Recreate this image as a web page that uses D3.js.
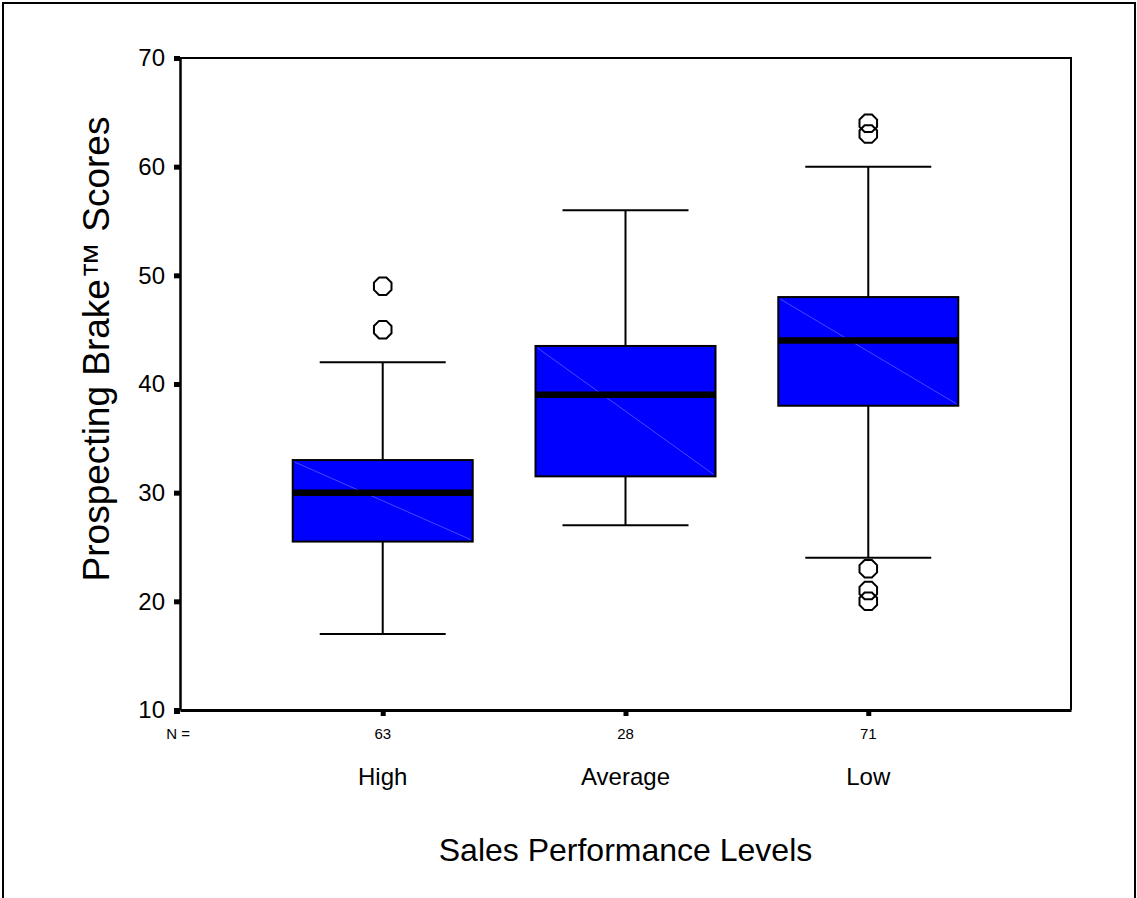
<!DOCTYPE html>
<html>
<head>
<meta charset="utf-8">
<script src="https://cdn.jsdelivr.net/npm/d3@7"></script>
<style>
  body { margin: 0; background: #fff; }
  text { font-family: Arial, "Liberation Sans", sans-serif; fill: #000; }
</style>
</head>
<body>
<div id="chart"></div>
<script>
// data
const categories = ["High", "Average", "Low"];
const counts = [63, 28, 71];
const lowerWhisker = [17, 27, 24];
const q1 = [25.5, 31.5, 38];
const median = [30, 39, 44];
const q3 = [33, 43.5, 48];
const upperWhisker = [42, 56, 60];
const outliers = [[49, 45], [], [64, 63, 23, 21, 20]];
const yTicks = [10, 20, 30, 40, 50, 60, 70];

const W = 1137, H = 898;
const margin = { top: 58, right: 66, bottom: 188, left: 180 },
  width = W - margin.left - margin.right,
  height = H - margin.top - margin.bottom;

const svg = d3.select("#chart")
  .append("svg")
  .attr("width", W)
  .attr("height", H);

// outer frame (bottom edge cut off)
svg.append("path")
  .attr("d", `M3,${H + 5} V3 H${W - 2} V${H + 5}`)
  .attr("fill", "none")
  .attr("stroke", "#000")
  .attr("stroke-width", 2);

const g = svg.append("g")
  .attr("transform", `translate(${margin.left},${margin.top})`);

const y = d3.scaleLinear().domain([10, 70]).range([height, 0]);
const x = d3.scalePoint().domain(categories).range([0, width]).padding(0.835);

// plot frame top + right
g.append("path")
  .attr("d", `M0,0 H${width} V${height}`)
  .attr("fill", "none")
  .attr("stroke", "#000")
  .attr("stroke-width", 2);

// y axis
const yAxis = g.append("g")
  .call(d3.axisLeft(y).tickValues(yTicks).tickSizeInner(6).tickSizeOuter(0).tickPadding(9));
yAxis.select(".domain").attr("stroke-width", 2.5);
yAxis.selectAll(".tick line").attr("stroke-width", 5);
yAxis.selectAll(".tick text").style("font-size", "24px");

// x axis
const xAxis = g.append("g")
  .attr("transform", `translate(0,${height})`)
  .call(d3.axisBottom(x).tickSizeInner(6).tickSizeOuter(0).tickFormat(""));
xAxis.select(".domain").attr("stroke-width", 3);
xAxis.selectAll(".tick line").attr("stroke-width", 5);
// corner tick
g.append("rect").attr("x", -6).attr("y", height - 2).attr("width", 6).attr("height", 6).attr("fill", "#000");

// N labels
g.append("text")
  .attr("x", -2).attr("y", height + 29)
  .attr("text-anchor", "middle")
  .style("font-size", "15px")
  .text("N =");
g.append("g").selectAll("text")
  .data(categories)
  .join("text")
  .attr("x", d => x(d))
  .attr("y", height + 29)
  .attr("text-anchor", "middle")
  .style("font-size", "15px")
  .text((d, i) => counts[i]);

// category labels
g.append("g").selectAll("text")
  .data(categories)
  .join("text")
  .attr("x", d => x(d))
  .attr("y", height + 75)
  .attr("text-anchor", "middle")
  .style("font-size", "24px")
  .text(d => d);

// axis titles
g.append("text")
  .attr("x", x("Average"))
  .attr("y", height + 151)
  .attr("text-anchor", "middle")
  .style("font-size", "32px")
  .text("Sales Performance Levels");

g.append("text")
  .attr("transform", `translate(-71,${349 - margin.top}) rotate(-90)`)
  .attr("text-anchor", "middle")
  .style("font-size", "37px")
  .text("Prospecting Brake\u2122 Scores");

const boxW = 180, capW = 126;
const boxes = g.append("g").selectAll("g")
  .data(categories)
  .join("g")
  .attr("transform", d => `translate(${x(d)},0)`);

// whiskers
boxes.append("line")
  .attr("y1", (d, i) => y(lowerWhisker[i]))
  .attr("y2", (d, i) => y(upperWhisker[i]))
  .attr("stroke", "#000").attr("stroke-width", 2);
boxes.append("line")
  .attr("x1", -capW / 2).attr("x2", capW / 2)
  .attr("y1", (d, i) => y(lowerWhisker[i]))
  .attr("y2", (d, i) => y(lowerWhisker[i]))
  .attr("stroke", "#000").attr("stroke-width", 2);
boxes.append("line")
  .attr("x1", -capW / 2).attr("x2", capW / 2)
  .attr("y1", (d, i) => y(upperWhisker[i]))
  .attr("y2", (d, i) => y(upperWhisker[i]))
  .attr("stroke", "#000").attr("stroke-width", 2);

// box
boxes.append("rect")
  .attr("x", -boxW / 2)
  .attr("width", boxW)
  .attr("y", (d, i) => y(q3[i]))
  .attr("height", (d, i) => y(q1[i]) - y(q3[i]))
  .attr("fill", "#0000ff")
  .attr("stroke", "#000")
  .attr("stroke-width", 2);

// faint diagonal
boxes.append("line")
  .attr("x1", -boxW / 2 + 2).attr("x2", boxW / 2 - 2)
  .attr("y1", (d, i) => y(q3[i]) + 2)
  .attr("y2", (d, i) => y(q1[i]) - 2)
  .attr("stroke", "#5a5aff").attr("stroke-width", 0.8);

// median
boxes.append("line")
  .attr("x1", -boxW / 2).attr("x2", boxW / 2)
  .attr("y1", (d, i) => y(median[i]))
  .attr("y2", (d, i) => y(median[i]))
  .attr("stroke", "#000").attr("stroke-width", 6.5);

// outliers (octagons)
const octagon = d3.lineRadial().curve(d3.curveLinearClosed)(
  d3.range(8).map(k => [Math.PI / 8 + k * Math.PI / 4, 9.5]));
boxes.each(function (d, i) {
  d3.select(this).selectAll("path.out")
    .data(outliers[i])
    .join("path")
    .attr("class", "out")
    .attr("d", octagon)
    .attr("transform", v => `translate(0,${y(v)})`)
    .attr("fill", "none")
    .attr("stroke", "#000")
    .attr("stroke-width", 2);
});
</script>
</body>
</html>
